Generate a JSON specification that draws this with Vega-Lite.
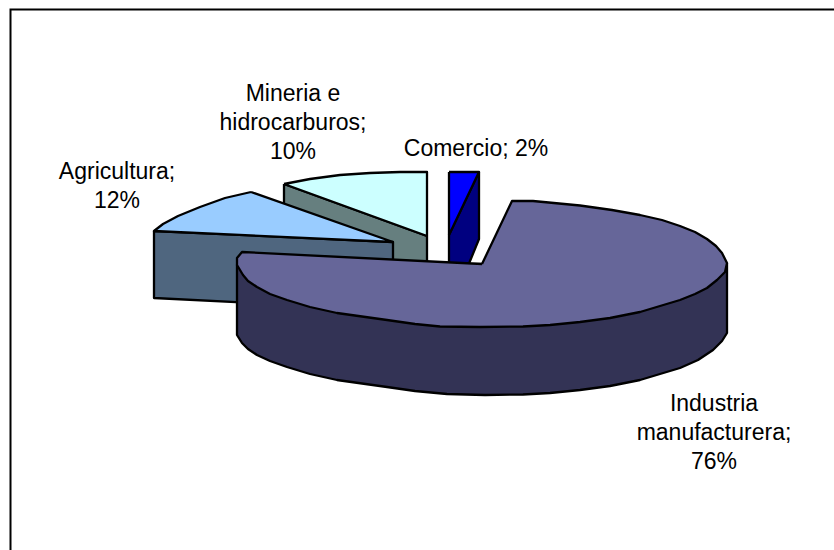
{"$schema":"https://vega.github.io/schema/vega-lite/v6.json","width":834,"height":550,"autosize":{"type":"none"},"padding":0,"background":"white","config":{"view":{"stroke":null}},
"datasets":{
"marco":[{"o":1,"x":10.5,"y":550},{"o":2,"x":10.5,"y":9.5},{"o":3,"x":834,"y":9.5}],
"piezas":[
{"p":"Mineria lado","o":1,"x":284,"y":184},{"p":"Mineria lado","o":2,"x":427,"y":236},{"p":"Mineria lado","o":3,"x":427,"y":304},{"p":"Mineria lado","o":4,"x":284,"y":252},{"p":"Mineria lado","o":5,"x":284,"y":184},
{"p":"Mineria sup","o":1,"x":284,"y":184},{"p":"Mineria sup","o":2,"x":310,"y":179},{"p":"Mineria sup","o":3,"x":340,"y":175},{"p":"Mineria sup","o":4,"x":370,"y":173},{"p":"Mineria sup","o":5,"x":400,"y":172},{"p":"Mineria sup","o":6,"x":427,"y":172},{"p":"Mineria sup","o":7,"x":427,"y":236},{"p":"Mineria sup","o":8,"x":284,"y":184},
{"p":"Agricultura lado","o":1,"x":154,"y":231},{"p":"Agricultura lado","o":2,"x":393,"y":242},{"p":"Agricultura lado","o":3,"x":393,"y":310},{"p":"Agricultura lado","o":4,"x":154,"y":298},{"p":"Agricultura lado","o":5,"x":154,"y":231},
{"p":"Agricultura sup","o":1,"x":251,"y":192},{"p":"Agricultura sup","o":2,"x":225,"y":198},{"p":"Agricultura sup","o":3,"x":200,"y":207},{"p":"Agricultura sup","o":4,"x":178,"y":216},{"p":"Agricultura sup","o":5,"x":163,"y":224},{"p":"Agricultura sup","o":6,"x":154,"y":231},{"p":"Agricultura sup","o":7,"x":393,"y":242},{"p":"Agricultura sup","o":8,"x":251,"y":192},
{"p":"Comercio lado","o":1,"x":479,"y":172},{"p":"Comercio lado","o":2,"x":479,"y":239},{"p":"Comercio lado","o":3,"x":468,"y":266},{"p":"Comercio lado","o":4,"x":449,"y":266},{"p":"Comercio lado","o":5,"x":449,"y":235},{"p":"Comercio lado","o":6,"x":479,"y":172},
{"p":"Comercio sup","o":1,"x":449,"y":172},{"p":"Comercio sup","o":2,"x":479,"y":172},{"p":"Comercio sup","o":3,"x":449,"y":235},{"p":"Comercio sup","o":4,"x":449,"y":172},
{"p":"Industria lado","o":1,"x":727,"y":263},{"p":"Industria lado","o":2,"x":727,"y":333},{"p":"Industria lado","o":3,"x":722,"y":341},{"p":"Industria lado","o":4,"x":713,"y":350},{"p":"Industria lado","o":5,"x":698,"y":360},{"p":"Industria lado","o":6,"x":680,"y":368},{"p":"Industria lado","o":7,"x":640,"y":380},{"p":"Industria lado","o":8,"x":610,"y":386},{"p":"Industria lado","o":9,"x":580,"y":390},{"p":"Industria lado","o":10,"x":550,"y":393},{"p":"Industria lado","o":11,"x":523,"y":394.5},{"p":"Industria lado","o":12,"x":485,"y":395},{"p":"Industria lado","o":13,"x":447,"y":394},{"p":"Industria lado","o":14,"x":415,"y":391},{"p":"Industria lado","o":15,"x":387,"y":387},{"p":"Industria lado","o":16,"x":337,"y":380},{"p":"Industria lado","o":17,"x":310,"y":374},{"p":"Industria lado","o":18,"x":287,"y":367},{"p":"Industria lado","o":19,"x":270,"y":361},{"p":"Industria lado","o":20,"x":257,"y":355},{"p":"Industria lado","o":21,"x":248,"y":349},{"p":"Industria lado","o":22,"x":242,"y":343},{"p":"Industria lado","o":23,"x":237,"y":335},{"p":"Industria lado","o":24,"x":237,"y":265},{"p":"Industria lado","o":25,"x":727,"y":263},
{"p":"Industria sup","o":1,"x":482,"y":264},{"p":"Industria sup","o":2,"x":512,"y":201},{"p":"Industria sup","o":3,"x":533,"y":201},{"p":"Industria sup","o":4,"x":580,"y":205.5},{"p":"Industria sup","o":5,"x":612,"y":210},{"p":"Industria sup","o":6,"x":640,"y":215},{"p":"Industria sup","o":7,"x":662,"y":220},{"p":"Industria sup","o":8,"x":680,"y":226},{"p":"Industria sup","o":9,"x":695,"y":232},{"p":"Industria sup","o":10,"x":707,"y":239},{"p":"Industria sup","o":11,"x":716,"y":246},{"p":"Industria sup","o":12,"x":722,"y":253},{"p":"Industria sup","o":13,"x":727,"y":263},{"p":"Industria sup","o":14,"x":725,"y":272},{"p":"Industria sup","o":15,"x":717,"y":280},{"p":"Industria sup","o":16,"x":707,"y":288},{"p":"Industria sup","o":17,"x":695,"y":294},{"p":"Industria sup","o":18,"x":680,"y":300},{"p":"Industria sup","o":19,"x":640,"y":312},{"p":"Industria sup","o":20,"x":610,"y":318},{"p":"Industria sup","o":21,"x":580,"y":322},{"p":"Industria sup","o":22,"x":550,"y":325},{"p":"Industria sup","o":23,"x":523,"y":326.5},{"p":"Industria sup","o":24,"x":480,"y":327},{"p":"Industria sup","o":25,"x":440,"y":326.5},{"p":"Industria sup","o":26,"x":415,"y":324},{"p":"Industria sup","o":27,"x":387,"y":320},{"p":"Industria sup","o":28,"x":337,"y":313},{"p":"Industria sup","o":29,"x":310,"y":307},{"p":"Industria sup","o":30,"x":287,"y":300},{"p":"Industria sup","o":31,"x":270,"y":294},{"p":"Industria sup","o":32,"x":257,"y":287},{"p":"Industria sup","o":33,"x":248,"y":281},{"p":"Industria sup","o":34,"x":243,"y":275},{"p":"Industria sup","o":35,"x":237,"y":265},{"p":"Industria sup","o":36,"x":237,"y":258},{"p":"Industria sup","o":37,"x":242,"y":252},{"p":"Industria sup","o":38,"x":482,"y":264}
],
"etiquetas":[
{"sector":"Mineria e hidrocarburos","texto":"Mineria e\nhidrocarburos;\n10%","x":293,"y":94},
{"sector":"Agricultura","texto":"Agricultura;\n12%","x":117,"y":172},
{"sector":"Comercio","texto":"Comercio; 2%","x":476,"y":149},
{"sector":"Industria manufacturera","texto":"Industria\nmanufacturera;\n76%","x":714,"y":404}
]},
"layer":[
{"data":{"name":"marco"},"mark":{"type":"line","stroke":"#000000","strokeWidth":2,"clip":false},"encoding":{"x":{"field":"x","type":"quantitative","scale":{"domain":[0,834]},"axis":null},"y":{"field":"y","type":"quantitative","scale":{"domain":[550,0]},"axis":null},"order":{"field":"o","type":"quantitative"}}},
{"data":{"name":"piezas"},"mark":{"type":"line","stroke":"#000000","strokeWidth":2.3,"strokeJoin":"round","fillOpacity":1},"encoding":{"x":{"field":"x","type":"quantitative","scale":{"domain":[0,834]},"axis":null},"y":{"field":"y","type":"quantitative","scale":{"domain":[550,0]},"axis":null},"order":{"field":"o","type":"quantitative"},"detail":{"field":"p"},"fill":{"field":"p","type":"nominal","legend":null,"scale":{"domain":["Mineria lado","Mineria sup","Agricultura lado","Agricultura sup","Comercio lado","Comercio sup","Industria lado","Industria sup"],"range":["#667f7f","#ccffff","#4f667f","#99ccff","#000080","#0000ff","#333355","#666699"]}}}},
{"data":{"name":"etiquetas"},"mark":{"type":"text","font":"Liberation Sans","fontSize":23,"color":"#000000","align":"center","baseline":"middle","lineBreak":"\n","lineHeight":29},"encoding":{"x":{"field":"x","type":"quantitative","scale":{"domain":[0,834]},"axis":null},"y":{"field":"y","type":"quantitative","scale":{"domain":[550,0]},"axis":null},"text":{"field":"texto","type":"nominal"}}}
]}
